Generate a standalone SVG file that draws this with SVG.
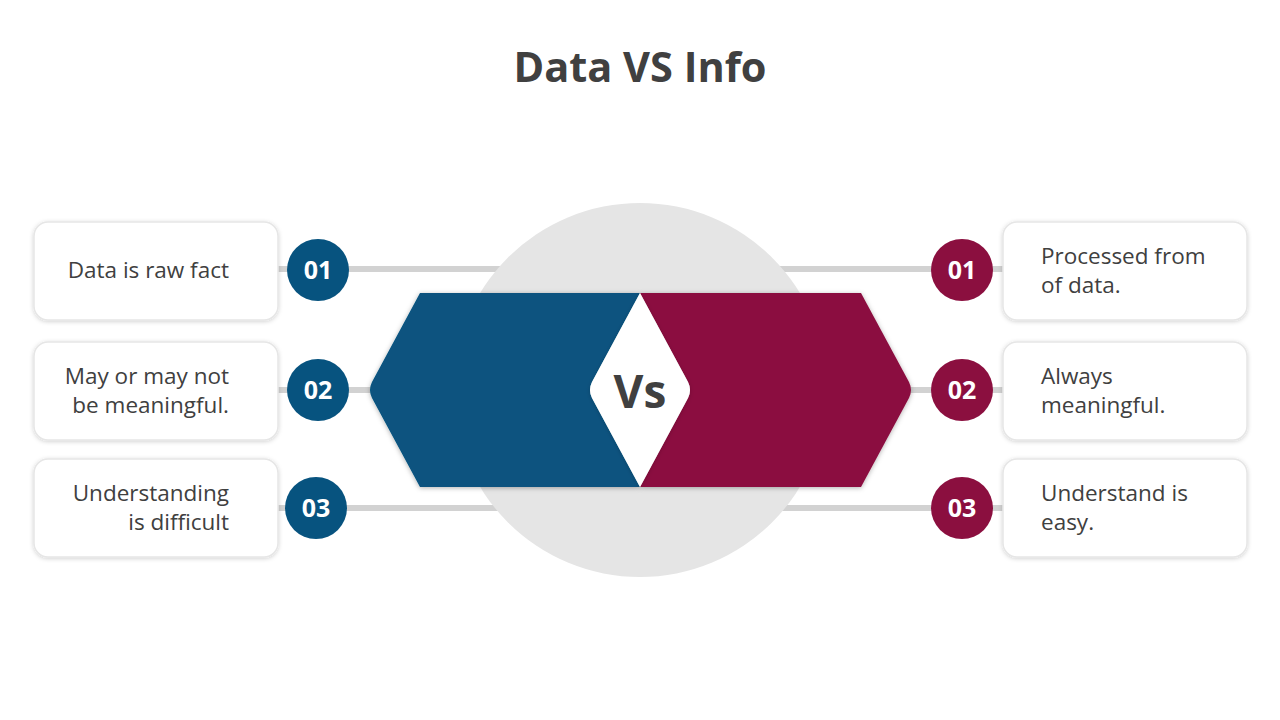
<svg xmlns="http://www.w3.org/2000/svg" width="1280" height="720" viewBox="0 0 1280 720">
<defs>
<filter id="sh" x="-10%" y="-10%" width="120%" height="130%">
<feDropShadow dx="0" dy="1" stdDeviation="2" flood-color="#000" flood-opacity="0.18"/>
</filter>
<filter id="sh2" x="-10%" y="-10%" width="120%" height="130%">
<feDropShadow dx="0" dy="1" stdDeviation="2.5" flood-color="#000" flood-opacity="0.3"/>
</filter>
</defs>
<style>
.t{font-family:"Open Sans","Noto Sans",sans-serif;fill:#404040}
.box{fill:#fff;stroke:#e6e6e6;stroke-width:1.5}
.ln{stroke:#d2d2d2;stroke-width:6}
.num{font-family:"Open Sans","Noto Sans",sans-serif;font-weight:700;font-size:25px;fill:#fff;text-anchor:middle}
.lbl{font-size:22.5px}
</style>
<rect width="1280" height="720" fill="#fff"/>
<text class="t" x="640" y="82" font-size="41.5" font-weight="700" text-anchor="middle">Data VS Info</text>

<g id="connectors">
<line class="ln" x1="278" y1="269" x2="1003" y2="269"/>
<line class="ln" x1="278" y1="390" x2="1003" y2="390"/>
<line class="ln" x1="278" y1="508" x2="1003" y2="508"/>
</g>

<g id="center">
<circle cx="640" cy="390" r="187" fill="#e5e5e5"/>
<path d="M420 293 L640 293 L592 382 Q588 390 592 398 L640 487 L420 487 L372 398 Q368 390 372 382 Z" fill="#07537f" filter="url(#sh2)"/>
<path d="M640 293 L861 293 L909 382 Q913 390 909 398 L861 487 L640 487 L688 398 Q692 390 688 382 Z" fill="#8b0f3f" filter="url(#sh2)"/>
<path d="M640 293 L688 382 Q692 390 688 398 L640 487 L592 398 Q588 390 592 382 Z" fill="#fff" filter="url(#sh)"/>
<text class="t" x="640" y="408" font-size="46" font-weight="700" text-anchor="middle">Vs</text>
</g>

<g id="left1">
<rect class="box" x="34" y="222" width="244" height="98" rx="14" filter="url(#sh)"/>
<text class="t lbl" x="229" y="278" text-anchor="end">Data is raw fact</text>
<circle cx="318" cy="270" r="31" fill="#07537f"/>
<text class="num" x="318" y="279">01</text>
</g>
<g id="left2">
<rect class="box" x="34" y="342" width="244" height="98" rx="14" filter="url(#sh)"/>
<text class="t lbl" x="229" y="384" text-anchor="end">May or may not</text>
<text class="t lbl" x="229" y="413" text-anchor="end">be meaningful.</text>
<circle cx="318" cy="390" r="31" fill="#07537f"/>
<text class="num" x="318" y="399">02</text>
</g>
<g id="left3">
<rect class="box" x="34" y="459" width="244" height="98" rx="14" filter="url(#sh)"/>
<text class="t lbl" x="229" y="501" text-anchor="end">Understanding</text>
<text class="t lbl" x="229" y="530" text-anchor="end">is difficult</text>
<circle cx="316" cy="508" r="31" fill="#07537f"/>
<text class="num" x="316" y="517">03</text>
</g>

<g id="right1">
<rect class="box" x="1003" y="222" width="244" height="98" rx="14" filter="url(#sh)"/>
<text class="t lbl" x="1041" y="264">Processed from</text>
<text class="t lbl" x="1041" y="293">of data.</text>
<circle cx="962" cy="270" r="31" fill="#8b0f3f"/>
<text class="num" x="962" y="279">01</text>
</g>
<g id="right2">
<rect class="box" x="1003" y="342" width="244" height="98" rx="14" filter="url(#sh)"/>
<text class="t lbl" x="1041" y="384">Always</text>
<text class="t lbl" x="1041" y="413">meaningful.</text>
<circle cx="962" cy="390" r="31" fill="#8b0f3f"/>
<text class="num" x="962" y="399">02</text>
</g>
<g id="right3">
<rect class="box" x="1003" y="459" width="244" height="98" rx="14" filter="url(#sh)"/>
<text class="t lbl" x="1041" y="501">Understand is</text>
<text class="t lbl" x="1041" y="530">easy.</text>
<circle cx="962" cy="508" r="31" fill="#8b0f3f"/>
<text class="num" x="962" y="517">03</text>
</g>
</svg>
